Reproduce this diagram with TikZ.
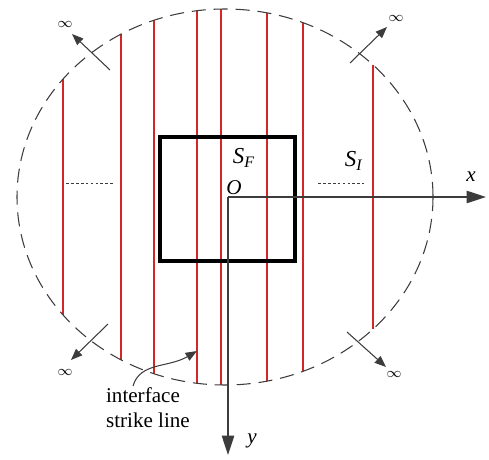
\documentclass[tikz,border=0pt]{standalone}
\usepackage{fontspec}
\setmainfont{Liberation Serif}
\usepackage{tikz}
\usetikzlibrary{arrows.meta, calc}
\definecolor{strikeRed}{RGB}{212,38,38}
\definecolor{boundGray}{RGB}{60,60,60}
\tikzset{
  fig/strike/.style={draw=strikeRed, line width=0.8pt},
  fig/bound/.style={draw=boundGray, line width=0.6pt, dash pattern=on 8pt off 4.5pt},
  fig/mid/.style={draw=boundGray, line width=0.4pt, dash pattern=on 1.6pt off 1.2pt},
  fig/sq/.style={draw=black, line width=1.9pt},
  fig/axis/.style={draw=boundGray, line width=0.8pt,
    -{Triangle[length=11pt,width=7pt]}},
  fig/inf/.style={draw=boundGray, line width=0.6pt,
    -{Triangle[length=6.5pt,width=5pt]}},
  fig/callout/.style={draw=boundGray, line width=0.6pt,
    -{Triangle[length=6.5pt,width=5pt]}},
  fig/lbl/.style={font=\fontsize{12}{14}\selectfont, inner sep=1pt},
  fig/infl/.style={font=\fontsize{8}{9}\selectfont, inner sep=1pt}
}

\begin{document}
\begin{tikzpicture}[x=0.02cm, y=-0.02cm]
  \useasboundingbox (0,0) rectangle (489,459);

  \foreach \xs in {63,121,154,197,221,267,303,373}{
    \pgfmathsetmacro{\hs}{188*sqrt(1-((\xs-225)/208)^2)}
    \draw[fig/strike] (\xs,{197-\hs}) -- (\xs,{197+\hs});
  }
  \draw[fig/bound] (225,197) ellipse [x radius=208, y radius=188];
  \draw[fig/sq] (160,137) rectangle (295,261);

  \draw[fig/mid] (66,183) -- (115,183);
  \draw[fig/mid] (318,183) -- (364,183);

  \coordinate (O) at (228,197);
  \coordinate (xe) at (486,197);
  \coordinate (ye) at (228,455);
  \draw[fig/axis] (O) -- (xe);
  \draw[fig/axis] (O) -- (ye);

  \node[fig/lbl] (ol) at (234,188) {\textit{O}};
  \node[fig/lbl] (xl) at (471,177) {\textit{x}};
  \node[fig/lbl] (yl) at (252,441) {\textit{y}};
  \node[fig/lbl, font=\fontsize{13}{15}\selectfont] (sf) at (244,158) {\textit{S}\textsubscript{\textit{F}}};
  \node[fig/lbl, font=\fontsize{13}{15}\selectfont] (si) at (354,161) {\textit{S}\textsubscript{\textit{I}}};

  \coordinate (a1) at (110,70);  \coordinate (a1t) at (72,34);
  \coordinate (a2) at (350,63);  \coordinate (a2t) at (387,27);
  \coordinate (a3) at (108,324); \coordinate (a3t) at (71,360);
  \coordinate (a4) at (347,332); \coordinate (a4t) at (386,367);
  \draw[fig/inf] (a1) -- (a1t);
  \draw[fig/inf] (a2) -- (a2t);
  \draw[fig/inf] (a3) -- (a3t);
  \draw[fig/inf] (a4) -- (a4t);
  \node[fig/infl] (i1) at (65,24) {$\infty$};
  \node[fig/infl] (i2) at (396,18) {$\infty$};
  \node[fig/infl] (i3) at (65,372) {$\infty$};
  \node[fig/infl] (i4) at (394,374) {$\infty$};

  \node[fig/lbl, align=left, anchor=north west] (isl) at (104,386) {interface\\strike line};
  \coordinate (hit) at (197,351);
  \draw[fig/callout] ($(isl.north west)+(29,0)$) .. controls (140,362) and (168,368) .. (hit);
\end{tikzpicture}
\end{document}
